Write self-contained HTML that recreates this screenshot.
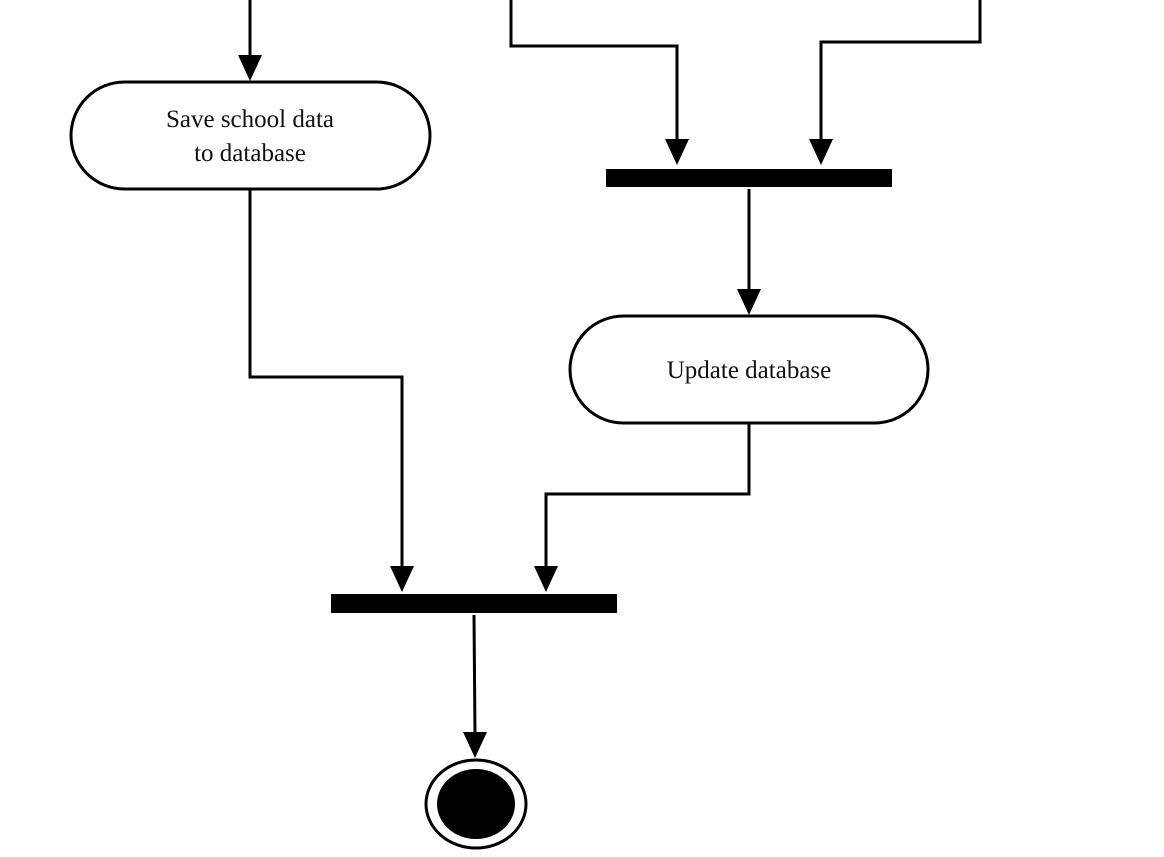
<!DOCTYPE html>
<html><head><meta charset="utf-8"><style>
html,body{margin:0;padding:0;background:#fff;}
svg{display:block;}
text{font-family:"Liberation Serif",serif;font-size:25px;fill:#111;}
</style></head><body>
<svg width="1164" height="857" viewBox="0 0 1164 857" xmlns="http://www.w3.org/2000/svg">
<defs>
<marker id="a" markerWidth="24" markerHeight="26" refX="12" refY="26" orient="auto-start-reverse" markerUnits="userSpaceOnUse" viewBox="0 0 24 26">
<path d="M0,0 L24,0 L12,26 Z" fill="#000" transform="rotate(-90 12 13) translate(0,0)"/>
</marker>
</defs>
<g stroke="#000" stroke-width="3" fill="none">
<!-- top-left arrow into Save box -->
<line x1="250" y1="0" x2="250" y2="60"/>
<polygon points="238,55 262,55 250,81" fill="#000" stroke="none"/>
<!-- Save box -->
<rect x="71" y="82" width="359" height="107" rx="53.5" ry="53.5" fill="#fff"/>
<!-- Save to bottom bar -->
<polyline points="250,189 250,377 402,377 402,570"/>
<polygon points="390,566 414,566 402,592" fill="#000" stroke="none"/>
<!-- top lines into bar1 -->
<polyline points="511,0 511,46 677,46 677,143"/>
<polygon points="665,139 689,139 677,165" fill="#000" stroke="none"/>
<polyline points="980,0 980,42 821,42 821,143"/>
<polygon points="809,139 833,139 821,165" fill="#000" stroke="none"/>
<!-- bar1 -->
<rect x="606" y="169" width="286" height="18" fill="#000" stroke="none"/>
<line x1="749" y1="189" x2="749" y2="292"/>
<polygon points="737,289 761,289 749,315" fill="#000" stroke="none"/>
<!-- Update box -->
<rect x="570" y="316" width="358" height="107" rx="53.5" ry="53.5" fill="#fff"/>
<polyline points="749,423 749,494 546,494 546,570"/>
<polygon points="534,566 558,566 546,592" fill="#000" stroke="none"/>
<!-- bar2 -->
<rect x="331" y="594" width="286" height="19" fill="#000" stroke="none"/>
<line x1="474" y1="615" x2="475" y2="735"/>
<polygon points="463,732 487,732 475,758" fill="#000" stroke="none"/>
<!-- end node -->
<ellipse cx="476" cy="804" rx="50" ry="44" fill="#fff"/>
<ellipse cx="476" cy="804" rx="39" ry="35" fill="#000" stroke="none"/>
</g>
<text x="250" y="127" text-anchor="middle">Save school data</text>
<text x="250" y="161" text-anchor="middle">to database</text>
<text x="749" y="378" text-anchor="middle">Update database</text>
</svg>
</body></html>
